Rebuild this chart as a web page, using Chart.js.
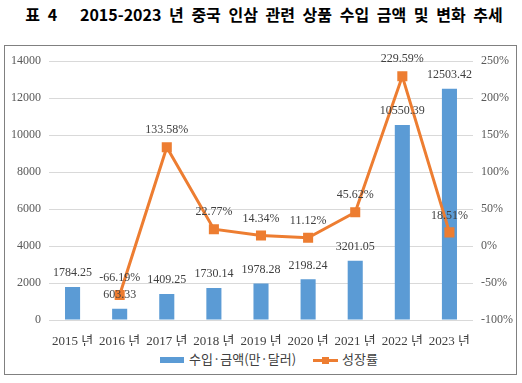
<!DOCTYPE html>
<html>
<head>
<meta charset="utf-8">
<script src="https://cdn.jsdelivr.net/npm/chart.js@4"></script>
<style>
  body { margin: 0; width: 522px; height: 383px; background: #fff; position: relative; overflow: hidden; }
  #title { position: absolute; left: 0; top: 2px; width: 528px; text-align: center;
           font: bold 16px "Noto Sans CJK KR", sans-serif; color: #000; word-spacing: 4px; }
  #box { position: absolute; left: 4px; top: 45px; width: 511px; height: 328px; border: 1px solid #808080; }
  #c { position: absolute; left: 0; top: 0; }
  #legend { position: absolute; top: 304px; left: 0; width: 511px; font: 13px "Noto Sans CJK KR", sans-serif; color: #404040; }
  .item { position: absolute; top: 0; line-height: 18px; }
  .sw { display: inline-block; vertical-align: middle; }
</style>
</head>
<body>
<div id="title">표 4&nbsp;&nbsp;&nbsp;2015-2023 년 중국 인삼 관련 상품 수입 금액 및 변화 추세</div>
<div id="box">
  <canvas id="c" width="511" height="300"></canvas>
  <div id="legend">
    <div class="item" style="left:155px"><span class="sw" style="width:24px;height:6px;background:#5B9BD5;margin-right:5px"></span>수입·금액(만·달러)</div>
    <div class="item" style="left:308px"><span class="sw" style="width:25px;height:3px;background:#ED7D31;position:relative;margin-right:4px"><span style="position:absolute;left:9px;top:-2px;width:7px;height:7px;background:#ED7D31"></span></span>성장률</div>
  </div>
</div>
<script>
// 데이터
const years = ["2015 년", "2016 년", "2017 년", "2018 년", "2019 년", "2020 년", "2021 년", "2022 년", "2023 년"];
const importAmount = [1784.25, 603.33, 1409.25, 1730.14, 1978.28, 2198.24, 3201.05, 10550.39, 12503.42];
const growthRate = [null, -66.19, 133.58, 22.77, 14.34, 11.12, 45.62, 229.59, 18.51];

const BLUE = "#5B9BD5";
const ORANGE = "#ED7D31";
const tickFont = { family: "'Liberation Serif', 'Noto Sans CJK KR', serif", size: 12 };

// 값 라벨 그리기
const valueLabels = {
    id: "valueLabels",
    afterDatasetsDraw(chart) {
        const ctx = chart.ctx;
        ctx.save();
        ctx.font = "12px 'Liberation Serif', serif";
        ctx.fillStyle = "#404040";
        ctx.textAlign = "center";
        ctx.textBaseline = "middle";
        chart.getDatasetMeta(0).data.forEach((el, i) => {
            ctx.fillText(importAmount[i].toFixed(2), el.x, el.y - 14);
        });
        chart.getDatasetMeta(1).data.forEach((el, i) => {
            if (growthRate[i] === null) return;
            ctx.fillText(growthRate[i].toFixed(2) + "%", el.x, el.y - 17);
        });
        ctx.restore();
    }
};

new Chart(document.getElementById("c"), {
    type: "bar",
    data: {
        labels: years,
        datasets: [
            {
                label: "수입·금액(만·달러)",
                data: importAmount,
                backgroundColor: BLUE,
                yAxisID: "y",
                categoryPercentage: 1,
                barPercentage: 0.32,
                order: 2
            },
            {
                type: "line",
                label: "성장률",
                data: growthRate,
                borderColor: ORANGE,
                backgroundColor: ORANGE,
                borderWidth: 3,
                pointStyle: "rect",
                pointRadius: 5,
                pointHoverRadius: 5,
                yAxisID: "y1",
                order: 1
            }
        ]
    },
    options: {
        responsive: false,
        animation: false,
        layout: { padding: { top: 11, left: 0, right: 0, bottom: 0 } },
        plugins: { legend: { display: false }, tooltip: { enabled: false } },
        scales: {
            x: {
                grid: { display: false },
                border: { display: false },
                ticks: { color: "#404040", font: { family: tickFont.family, size: 13 }, padding: 6, maxRotation: 0, autoSkip: false },
                afterFit: s => { s.height = 26; }
            },
            y: {
                position: "left",
                min: 0, max: 14000,
                ticks: { stepSize: 2000, color: "#595959", font: tickFont, padding: 8, callback: v => String(v) },
                grid: { color: "#D9D9D9", drawTicks: false },
                border: { display: false },
                afterFit: s => { s.width = 44; }
            },
            y1: {
                position: "right",
                min: -100, max: 250,
                ticks: { stepSize: 50, color: "#595959", font: tickFont, padding: 8, callback: v => v + "%" },
                grid: { drawOnChartArea: false, drawTicks: false },
                border: { display: false },
                afterFit: s => { s.width = 43; }
            }
        }
    },
    plugins: [valueLabels]
});
</script>
</body>
</html>
